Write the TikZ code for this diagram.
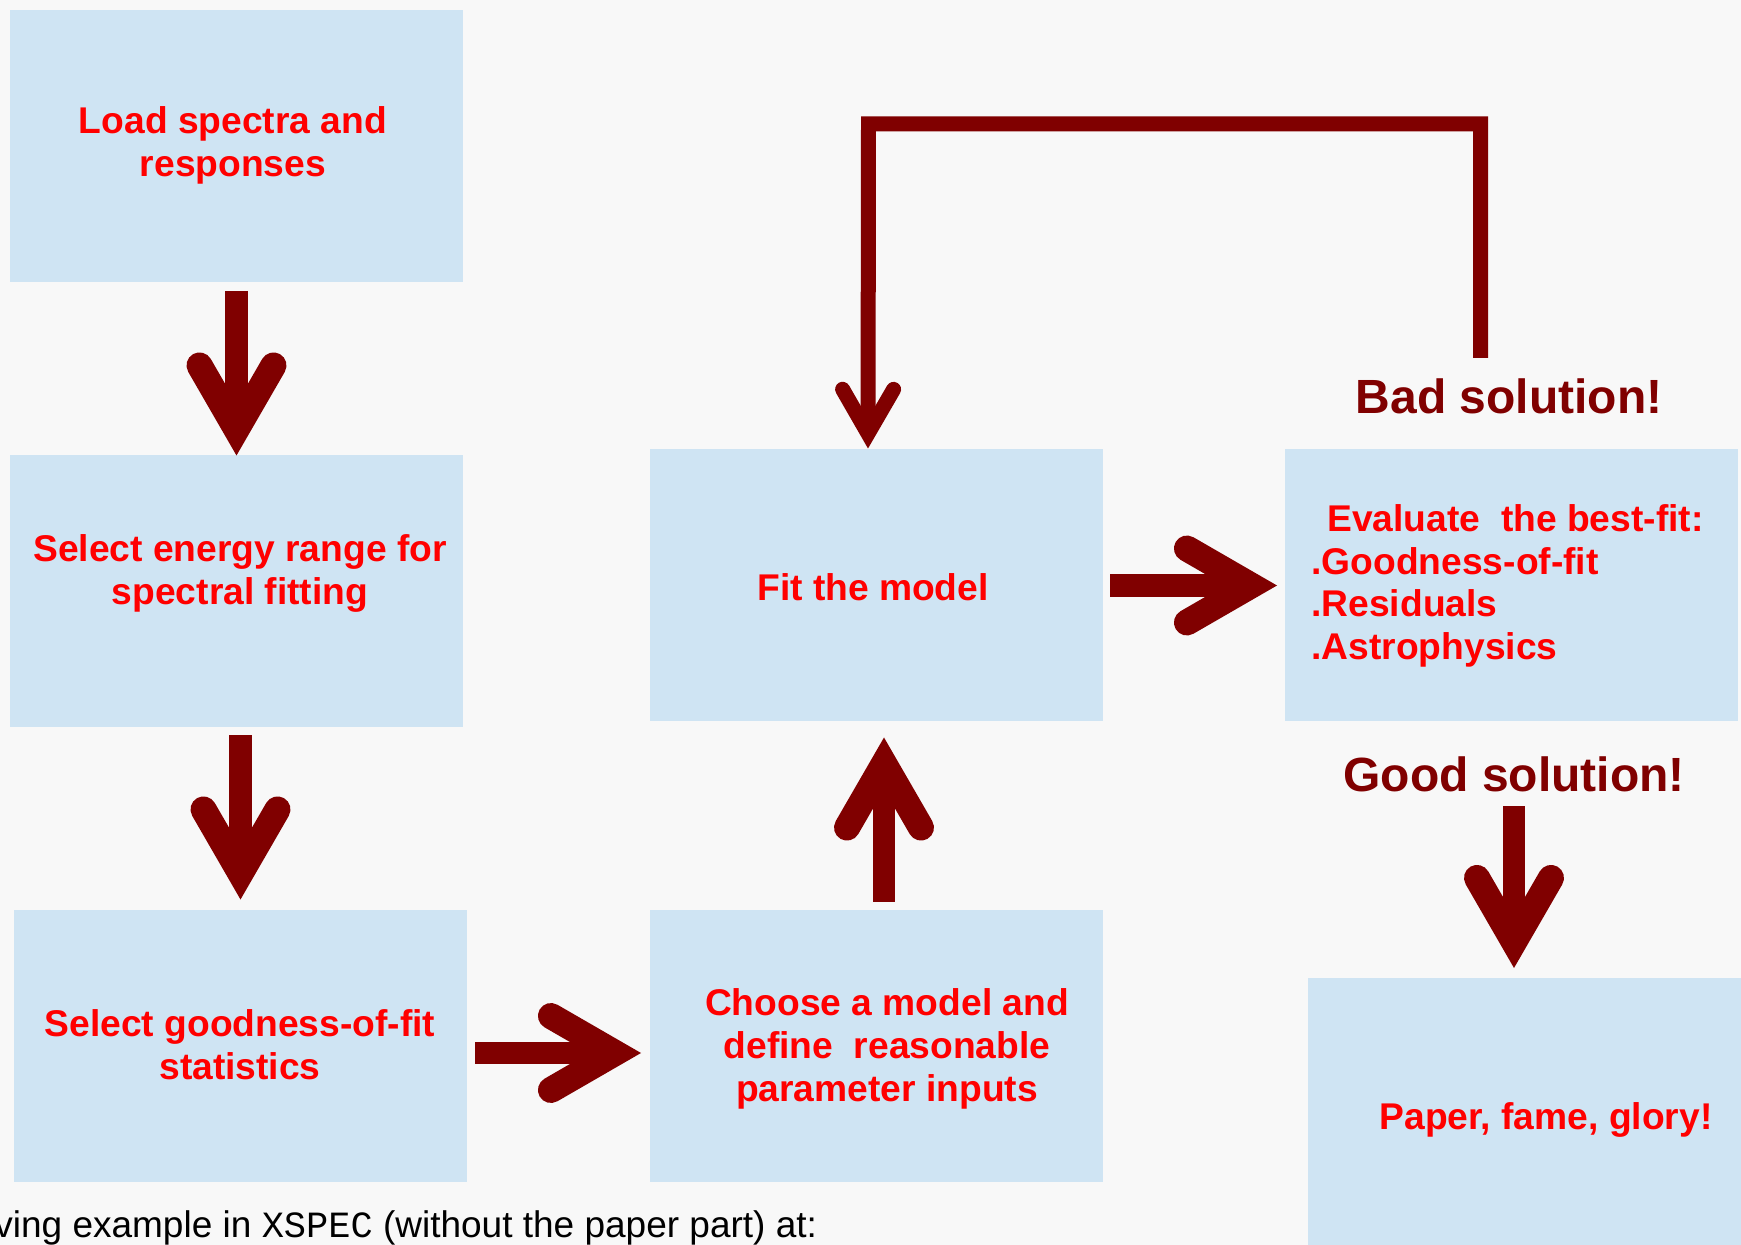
\documentclass[tikz,border=0pt]{standalone}
\usepackage{fontspec}
\setmainfont{Liberation Sans}
\setmonofont{Liberation Mono}
\usetikzlibrary{calc}
\definecolor{bg}{RGB}{248,248,248}
\definecolor{boxblue}{RGB}{207,228,243}
\definecolor{arrowred}{RGB}{128,0,0}
\definecolor{textred}{RGB}{255,0,0}
\newcommand{\bigflow}[2]{%
  \coordinate (fs) at (#1);
  \coordinate (ft) at (#2);
  \coordinate (fv) at ($(ft)!13pt!(fs)$);
  \draw[flowshaft] (fs) -- (fv);
  \draw[flowhead] ($(fv)!37pt!30:(fs)$) -- (fv) -- ($(fv)!37pt!-30:(fs)$);
}
\begin{document}
\begin{tikzpicture}[x=0.5pt,y=-0.5pt,
  box/.style={fill=boxblue, draw=none, minimum width=226.5pt, minimum height=136pt, inner sep=0pt, outer sep=0pt},
  boxtext/.style={text=textred, font=\fontsize{18.6pt}{21.5pt}\selectfont\bfseries, align=center, inner sep=0pt},
  solution/.style={text=arrowred, font=\fontsize{24pt}{28pt}\selectfont\bfseries, inner sep=0pt},
  flowshaft/.style={draw=arrowred, line width=11.25pt, line cap=butt},
  flowhead/.style={draw=arrowred, line width=13pt, line cap=round, line join=miter},
  loopline/.style={draw=arrowred, line width=7.5pt, line cap=butt, line join=miter},
  loophead/.style={draw=arrowred, line width=7.5pt, line cap=round, line join=miter},
  note/.style={text=black, font=\fontsize{18.5pt}{21pt}\selectfont, inner sep=0pt}
]
\useasboundingbox (0,0) rectangle (1741,1245);
\fill[bg] (0,0) rectangle (1741,1245);
\clip (0,0) rectangle (1741,1245);

% boxes
\node[box] (load)   at (236.5,146) {};
\node[box] (energy) at (236.5,591.5) {};
\node[box] (stats)  at (240.5,1045.5) {};
\node[box] (choose) at (876.5,1045.5) {};
\node[box] (fit)    at (876.5,585.5) {};
\node[box] (eval)   at (1511.5,585.5) {};
\node[box] (paper)  at (1534.5,1114) {};

% box texts
\node[boxtext] (tload)   at (233,145) {Load spectra and\\responses};
\node[boxtext] (tenergy) at (240,573) {Select energy range for\\spectral fitting};
\node[boxtext] (tstats)  at (240,1045) {Select goodness-of-fit\\statistics};
\node[boxtext] (tchoose) at (887,1049) {Choose a model and\\define\ \ reasonable\\parameter inputs};
\node[boxtext] (tfit)    at (873,587) {Fit the model};
\node[boxtext, anchor=base west] (teval1) at (1327,532) {Evaluate\ \ the best-fit:};
\node[boxtext, anchor=base west] (teval2) at (1311,575) {.Goodness-of-fit};
\node[boxtext, anchor=base west] (teval3) at (1311,617) {.Residuals};
\node[boxtext, anchor=base west] (teval4) at (1311,660) {.Astrophysics};
\node[boxtext] (tpaper)  at (1546,1120) {Paper, fame, glory!};

% solution labels
\node[solution] (bad)  at (1509,396) {Bad solution!};
\node[solution] (good) at (1514,774) {Good solution!};

% arrows
\bigflow{[yshift=-4.5pt]load.south}{energy.north}
\bigflow{[shift={(4,8)}]energy.south}{[shift={(0,-10)}]stats.north}
\bigflow{[shift={(8,7.5)}]stats.east}{[shift={(-9,7.5)}]choose.west}
\bigflow{[shift={(7.5,-8)}]choose.north}{[shift={(7.5,16)}]fit.south}
\bigflow{[shift={(7,0)}]fit.east}{[shift={(-8,0)}]eval.west}
\bigflow{[shift={(0,14)}]good.south}{[shift={(-20.5,-10)}]paper.north}

% feedback loop
\coordinate (loopstart) at ([shift={(-28.5,-20)}]bad.north);
\coordinate (looptip) at ([shift={(-8.5,-1)}]fit.north);
\coordinate (looptop) at (868.5,124);
\coordinate (loopv) at ($(looptip)!7.5pt!(looptop)$);
\draw[loopline] (loopstart) |- (looptop) -- (loopv);
\draw[loophead] ($(loopv)!25.5pt!30:(looptop)$) -- (loopv) -- ($(loopv)!25.5pt!-30:(looptop)$);

% bottom note
\node[note, anchor=base west] (foot) at (-6,1237) {ving example in \texttt{XSPEC} (without the paper part) at:};
\end{tikzpicture}
\end{document}
